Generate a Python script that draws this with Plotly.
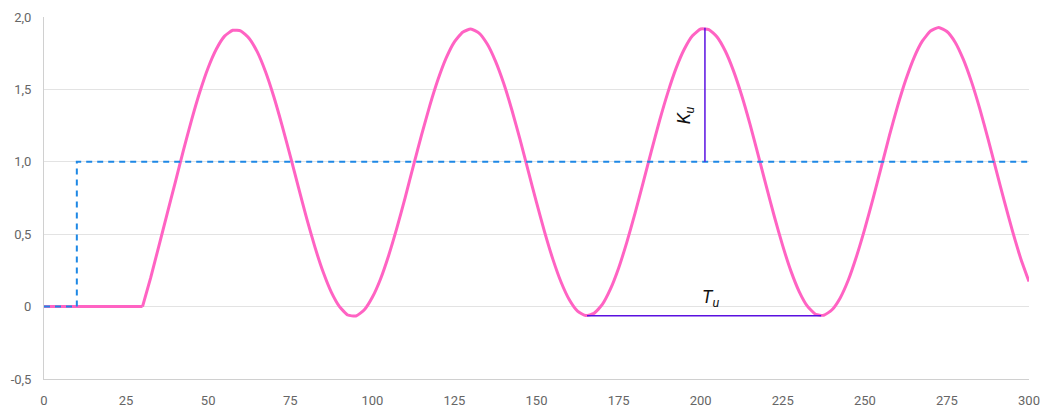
import plotly.graph_objects as go

# Process response (pink)
resp_x = [0, 30, 32.5, 35, 37.5, 40, 42.5, 45, 47.5, 50, 52.5, 55, 57.5, 60, 62.5, 65, 67.5, 70, 72.5, 75,
          77.5, 80, 82.5, 85, 87.5, 90, 92.5, 95, 97.5, 100, 102.5, 105, 107.5, 110, 112.5, 115, 117.5, 120,
          122.5, 125, 127.5, 130, 132.5, 135, 137.5, 140, 142.5, 145, 147.5, 150, 152.5, 155, 157.5, 160,
          162.5, 165, 167.5, 170, 172.5, 175, 177.5, 180, 182.5, 185, 187.5, 190, 192.5, 195, 197.5, 200,
          202.5, 205, 207.5, 210, 212.5, 215, 217.5, 220, 222.5, 225, 227.5, 230, 232.5, 235, 237.5, 240,
          242.5, 245, 247.5, 250, 252.5, 255, 257.5, 260, 262.5, 265, 267.5, 270, 272.5, 275, 277.5, 280,
          282.5, 285, 287.5, 290, 292.5, 295, 297.5, 300]
resp_y = [0, 0, 0.20, 0.42, 0.64, 0.86, 1.083, 1.293, 1.485, 1.650, 1.779, 1.868, 1.908, 1.903, 1.852, 1.757,
          1.620, 1.449, 1.252, 1.041, 0.823, 0.609, 0.412, 0.240, 0.100, 0.000, -0.058, -0.065, -0.024, 0.064,
          0.191, 0.355, 0.545, 0.753, 0.972, 1.186, 1.388, 1.568, 1.717, 1.828, 1.895, 1.917, 1.889, 1.813,
          1.695, 1.542, 1.358, 1.153, 0.935, 0.719, 0.513, 0.326, 0.168, 0.047, -0.031, -0.062, -0.047, 0.013,
          0.120, 0.265, 0.444, 0.644, 0.858, 1.075, 1.286, 1.478, 1.645, 1.777, 1.870, 1.917, 1.913, 1.862,
          1.765, 1.628, 1.458, 1.262, 1.048, 0.830, 0.617, 0.419, 0.245, 0.104, 0.003, -0.053, -0.060, -0.022,
          0.060, 0.185, 0.349, 0.538, 0.746, 0.963, 1.182, 1.386, 1.568, 1.720, 1.833, 1.903, 1.928, 1.900,
          1.826, 1.707, 1.552, 1.367, 1.160, 0.942, 0.726, 0.519, 0.331, 0.173]

# Setpoint step (blue dashed)
set_x = [0, 10, 10, 300]
set_y = [0, 0, 1, 1]

# Annotation markers
ku_x = [201.3, 201.3]
ku_y = [1.0, 1.925]
tu_x = [165.4, 236.7]
tu_y = [-0.063, -0.063]

y_ticks = [-0.5, 0, 0.5, 1.0, 1.5, 2.0]
y_ticktext = ["-0,5", "0", "0,5", "1,0", "1,5", "2,0"]
x_ticks = [0, 25, 50, 75, 100, 125, 150, 175, 200, 225, 250, 275, 300]

PINK = "#ff63c3"
fig = go.Figure()
# flat part before the response starts
fig.add_trace(go.Scatter(x=resp_x[:2], y=resp_y[:2], mode="lines",
                         line=dict(color=PINK, width=3), hoverinfo="skip"))
# oscillating part
fig.add_trace(go.Scatter(x=resp_x[1:], y=resp_y[1:], mode="lines",
                         line=dict(color=PINK, width=3, shape="spline", smoothing=0.5),
                         hoverinfo="skip"))
fig.add_trace(go.Scatter(x=set_x, y=set_y, mode="lines",
                         line=dict(color="#1e88e5", width=2, dash="6px,5px"), hoverinfo="skip"))
fig.add_trace(go.Scatter(x=ku_x, y=ku_y, mode="lines",
                         line=dict(color="#5a10e0", width=1.5), hoverinfo="skip"))
fig.add_trace(go.Scatter(x=tu_x, y=tu_y, mode="lines",
                         line=dict(color="#5a10e0", width=1.5), hoverinfo="skip"))

fig.add_annotation(x=195.5, y=1.32, text="<i>K<sub>u</sub></i>", showarrow=False, textangle=-90,
                   font=dict(family="Roboto", size=18, color="#111"))
fig.add_annotation(x=203, y=0.06, text="<i>T<sub>u</sub></i>", showarrow=False,
                   font=dict(family="Roboto", size=18, color="#111"))

fig.update_layout(
    width=1041, height=407,
    margin=dict(l=44, r=12, t=17, b=28, autoexpand=False),
    plot_bgcolor="white", paper_bgcolor="white",
    showlegend=False,
    font=dict(family="Roboto", size=13, color="#666"),
)
fig.update_xaxes(range=[0, 300], tickvals=x_ticks, ticktext=[str(v) for v in x_ticks],
                 showgrid=False, zeroline=False, showline=True, linecolor="#d0d0d0", linewidth=1,
                 ticks="", ticklabelstandoff=9, automargin=False)
fig.update_yaxes(range=[-0.5, 2.0], tickvals=y_ticks, ticktext=y_ticktext,
                 showgrid=True, gridcolor="#e3e3e3", gridwidth=1, zeroline=False,
                 showline=True, linecolor="#d0d0d0", linewidth=1, ticks="", ticklabelstandoff=9,
                 automargin=False)

fig.write_html("out.html")
